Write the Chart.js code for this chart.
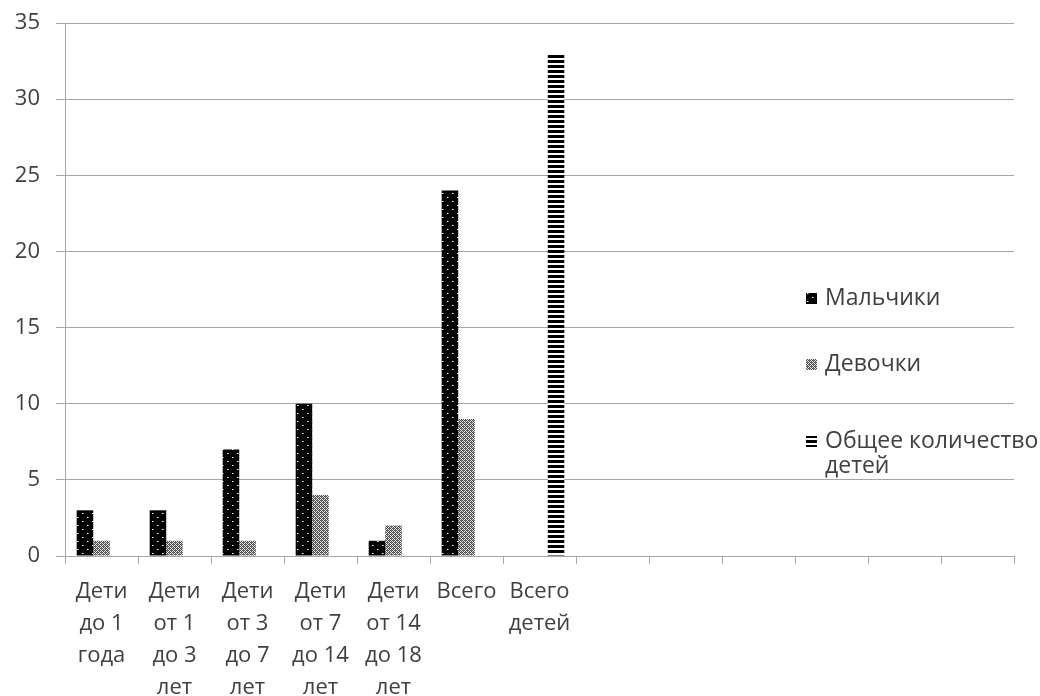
<!DOCTYPE html>
<html>
<head>
<meta charset="utf-8">
<script src="https://cdn.jsdelivr.net/npm/chart.js@4.4.1/dist/chart.umd.min.js"></script>
<style>
  html, body { margin: 0; padding: 0; background: #ffffff; }
  #wrap { width: 1040px; height: 696px; position: relative; }
</style>
</head>
<body>
<div id="wrap"><canvas id="chart" width="1040" height="696"></canvas></div>
<script>
// Age groups (the last six slots of the axis are empty)
const categories = [
  ['Дети', 'до 1', 'года'],
  ['Дети', 'от 1', 'до 3', 'лет'],
  ['Дети', 'от 3', 'до 7', 'лет'],
  ['Дети', 'от 7', 'до 14', 'лет'],
  ['Дети', 'от 14', 'до 18', 'лет'],
  ['Всего'],
  ['Всего', 'детей'],
  '', '', '', '', '', ''
];
const seriesNames = ['Мальчики', 'Девочки', 'Общее количество детей'];
const boys  = [3, 3, 7, 10, 1, 24, null, null, null, null, null, null, null];
const girls = [1, 1, 1, 4, 2, 9, null, null, null, null, null, null, null];
const total = [null, null, null, null, null, null, 33, null, null, null, null, null, null];
const yTicks = { min: 0, max: 35, step: 5 };

// Fill patterns
function makePattern(w, h, draw) {
  const c = document.createElement('canvas');
  c.width = w; c.height = h;
  const g = c.getContext('2d');
  draw(g);
  return document.getElementById('chart').getContext('2d').createPattern(c, 'repeat');
}
const dotPattern = makePattern(10, 8, g => {
  g.fillStyle = '#000'; g.fillRect(0, 0, 10, 8);
  g.fillStyle = '#ffffff';
  g.fillRect(2, 1, 1, 1);
  g.fillRect(7, 5, 1, 1);
  g.fillStyle = '#808080';
  g.fillRect(3, 1, 1, 1);
  g.fillRect(8, 5, 1, 1);
});
const checkPattern = makePattern(4, 4, g => {
  g.fillStyle = '#e8e8e8'; g.fillRect(0, 0, 4, 4);
  g.fillStyle = '#4a4a4a';
  for (let y = 0; y < 4; y++) for (let x = 0; x < 4; x++) {
    if ((x + y) % 2 === 0) g.fillRect(x, y, 1, 1);
  }
  g.fillStyle = '#7a7a7a';
  g.fillRect(1, 0, 1, 1); g.fillRect(3, 2, 1, 1);
});
const stripePattern = makePattern(4, 5, g => {
  g.fillStyle = '#ffffff'; g.fillRect(0, 0, 4, 5);
  g.fillStyle = '#000000'; g.fillRect(0, 0, 4, 3);
});
const fills = [dotPattern, checkPattern, stripePattern];

const FONT = '"Open Sans", Lato, "Liberation Sans", sans-serif';
const TEXT = '#404040';
const GRID = '#a6a6a6';

// Legend drawn inside the plot region, right side
const sideLegend = {
  id: 'sideLegend',
  afterDraw(chart) {
    const ctx = chart.ctx;
    const rows = [
      { lines: [seriesNames[0]], y: 298 },
      { lines: [seriesNames[1]], y: 364 },
      { lines: ['Общее количество', 'детей'], y: 441 }
    ];
    ctx.save();
    ctx.font = '23px ' + FONT;
    ctx.textBaseline = 'middle';
    ctx.textAlign = 'left';
    rows.forEach((r, i) => {
      ctx.fillStyle = fills[i];
      ctx.fillRect(806, r.y - 5, 11, 11);
      ctx.fillStyle = TEXT;
      r.lines.forEach((t, k) => ctx.fillText(t, 825, r.y + k * 25));
    });
    ctx.restore();
  }
};

const datasets = [boys, girls, total].map((d, i) => ({
  label: seriesNames[i],
  data: d,
  backgroundColor: fills[i],
  borderWidth: 0,
  barPercentage: 1,
  categoryPercentage: 0.68
}));

new Chart(document.getElementById('chart'), {
  type: 'bar',
  data: { labels: categories, datasets },
  options: {
    responsive: false,
    animation: false,
    events: [],
    layout: { padding: { top: 23, right: 26, left: 0, bottom: 0 } },
    plugins: { legend: { display: false }, tooltip: { enabled: false } },
    scales: {
      x: {
        grid: { drawOnChartArea: false, drawTicks: true, tickLength: 8, color: GRID, offset: true },
        border: { display: true, color: GRID },
        ticks: {
          color: TEXT, maxRotation: 0, autoSkip: false, padding: 12,
          font: { family: FONT, size: 22, lineHeight: 32 / 22 }
        },
        afterFit(s) { s.height = 140; s.paddingLeft = 0; s.paddingRight = 0; }
      },
      y: {
        min: yTicks.min, max: yTicks.max,
        grid: { color: GRID, tickLength: 9 },
        border: { display: true, color: GRID },
        ticks: {
          stepSize: yTicks.step, color: TEXT, padding: 16,
          font: { family: FONT, size: 22 }
        },
        afterFit(s) { s.width = 65; s.paddingTop = 0; s.paddingBottom = 0; }
      }
    }
  },
  plugins: [sideLegend]
});
</script>
</body>
</html>
